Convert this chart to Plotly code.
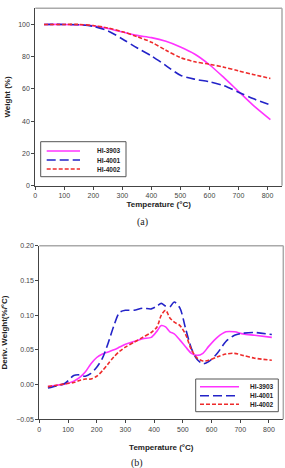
import plotly.graph_objects as go

# ---- data ----
series_names = ["HI-3903", "HI-4001", "HI-4002"]
series_colors = ["#ff33ff", "#2323c8", "#ee2b2b"]
series_dash = ["solid", "9px,4px", "4px,2px"]

temp_a = [30, 100, 150, 200, 250, 300, 350, 400, 450, 500, 550, 600, 650, 700, 750, 810]
weight_3903 = [100, 100, 99.8, 99.2, 97.5, 95.3, 93.2, 91.8, 89.5, 86, 81.5, 75, 67, 58.5, 50, 41]
weight_4001 = [100, 100, 99.8, 98.8, 96, 91, 85.5, 80.5, 74.5, 68.5, 66, 64.5, 62, 58, 54, 50]
weight_4002 = [100, 100, 100, 99.3, 97.8, 95.5, 92.5, 89, 84, 79.5, 76.8, 75.3, 73.5, 71.2, 69, 66.5]

temp_b = [30, 60, 90, 120, 140, 160, 180, 200, 220, 240, 260, 280, 300, 330, 360, 390,
          410, 425, 440, 455, 470, 490, 510, 530, 550, 570, 590, 620, 650, 680, 710, 750, 810]
deriv_3903 = [-0.003, -0.001, 0.001, 0.005, 0.010, 0.018, 0.030, 0.039, 0.044, 0.047, 0.050,
              0.054, 0.058, 0.062, 0.066, 0.068, 0.077, 0.085, 0.083, 0.076, 0.073, 0.064,
              0.054, 0.045, 0.042, 0.045, 0.055, 0.068, 0.076, 0.076, 0.073, 0.071, 0.068]
deriv_4001 = [-0.005, -0.002, 0.002, 0.013, 0.014, 0.012, 0.016, 0.025, 0.038, 0.060, 0.085,
              0.104, 0.107, 0.107, 0.110, 0.109, 0.113, 0.117, 0.113, 0.112, 0.119, 0.110,
              0.080, 0.052, 0.036, 0.030, 0.033, 0.045, 0.062, 0.071, 0.074, 0.075, 0.072]
deriv_4002 = [-0.003, -0.001, 0.001, 0.003, 0.006, 0.008, 0.008, 0.012, 0.020, 0.030, 0.040,
              0.048, 0.054, 0.061, 0.068, 0.075, 0.083, 0.100, 0.107, 0.096, 0.090, 0.085,
              0.072, 0.050, 0.038, 0.034, 0.035, 0.040, 0.044, 0.045, 0.042, 0.038, 0.035]

weights = [weight_3903, weight_4001, weight_4002]
derivs = [deriv_3903, deriv_4001, deriv_4002]

x_ticks = [0, 100, 200, 300, 400, 500, 600, 700, 800]
ya_ticks = [0, 20, 40, 60, 80, 100]
yb_ticks = [-0.05, 0.00, 0.05, 0.10, 0.15, 0.20]

W, H = 285, 468
SANS = "Liberation Sans, Arial, sans-serif"
SERIF = "Liberation Serif, Times New Roman, serif"

fig = go.Figure()
for i, name in enumerate(series_names):
    fig.add_trace(go.Scatter(x=temp_a, y=weights[i], mode="lines", name=name,
                             line=dict(color=series_colors[i], width=1.6, dash=series_dash[i],
                                       shape="spline", smoothing=0.8),
                             xaxis="x", yaxis="y", showlegend=False))
for i, name in enumerate(series_names):
    fig.add_trace(go.Scatter(x=temp_b, y=derivs[i], mode="lines", name=name,
                             line=dict(color=series_colors[i], width=1.6, dash=series_dash[i],
                                       shape="spline", smoothing=0.8),
                             xaxis="x2", yaxis="y2", showlegend=False))

def px_x(p):
    return p / W

def px_y(p):
    return 1 - p / H

# panel pixel boxes (left, top, right, bottom)
pa = (35.3, 8.3, 282.0, 185.7)
pb = (39.3, 245.7, 283.3, 419.3)

axis_common = dict(showgrid=False, zeroline=False, showline=True, linecolor="#444",
                   linewidth=1, ticks="outside", ticklen=3, tickwidth=1, tickcolor="#444",
                   automargin=False,
                   tickfont=dict(family=SANS, size=7, color="#444"))
title_font = dict(family=SANS, size=8, color="#222", weight="bold")

fig.update_layout(
    width=W, height=H, margin=dict(l=0, r=0, t=0, b=0),
    paper_bgcolor="white", plot_bgcolor="white",
    xaxis=dict(domain=[px_x(pa[0]), px_x(pa[2])], range=[0, 850], tickvals=x_ticks,
               anchor="y", title=dict(text="Temperature (°C)", font=title_font, standoff=3),
               **axis_common),
    yaxis=dict(domain=[px_y(pa[3]), px_y(pa[1])], range=[0, 110], tickvals=ya_ticks,
               anchor="x", title=dict(text="Weight (%)", font=title_font, standoff=6),
               **axis_common),
    xaxis2=dict(domain=[px_x(pb[0]), px_x(pb[2])], range=[0, 850], tickvals=x_ticks,
                anchor="y2", title=dict(text="Temperature (°C)", font=title_font, standoff=12),
                **axis_common),
    yaxis2=dict(domain=[px_y(pb[3]), px_y(pb[1])], range=[-0.05, 0.20], tickvals=yb_ticks,
                tickformat=".2f", anchor="x2",
                title=dict(text="Deriv. Weight(%/°C)", font=title_font, standoff=8),
                **axis_common),
)

shapes = []
annotations = []
# light top/right frame lines
for (l, t, r, b) in (pa, pb):
    shapes.append(dict(type="line", xref="paper", yref="paper", x0=px_x(l), x1=px_x(r),
                       y0=px_y(t), y1=px_y(t), line=dict(color="#aaaaaa", width=1.5)))
    shapes.append(dict(type="line", xref="paper", yref="paper", x0=px_x(r), x1=px_x(r),
                       y0=px_y(t), y1=px_y(b), line=dict(color="#aaaaaa", width=1.5)))

# legends drawn as boxes
def legend(box, rows, line_x, text_x):
    x0, y0, x1, y1 = box
    shapes.append(dict(type="rect", xref="paper", yref="paper", x0=px_x(x0), x1=px_x(x1),
                       y0=px_y(y1), y1=px_y(y0), line=dict(color="#555", width=1),
                       fillcolor="white"))
    for i, name in enumerate(series_names):
        shapes.append(dict(type="line", xref="paper", yref="paper",
                           x0=px_x(line_x[0]), x1=px_x(line_x[1]),
                           y0=px_y(rows[i]), y1=px_y(rows[i]),
                           line=dict(color=series_colors[i], width=1.5, dash=series_dash[i])))
        annotations.append(dict(xref="paper", yref="paper", x=px_x(text_x), y=px_y(rows[i]),
                                text=name, showarrow=False, xanchor="left",
                                yanchor="middle",
                                font=dict(family=SANS, size=6.5, color="#222", weight="bold")))

legend((40.7, 141.7, 126.0, 176.7), [151.0, 160.0, 169.0], (46.7, 80.0), 94.5)
legend((195.7, 379.0, 278.3, 411.7), [386.7, 395.7, 404.3], (200.0, 239.0), 247.5)

def label(x, y, text):
    annotations.append(dict(xref="paper", yref="paper", x=px_x(x), y=px_y(y), text=text,
                            showarrow=False, xanchor="center", yanchor="middle",
                            font=dict(family=SERIF, size=10, color="#222")))

label(142, 222, "(a)")
label(137, 463, "(b)")

fig.update_layout(shapes=shapes, annotations=annotations)
fig.write_html("out.html")
